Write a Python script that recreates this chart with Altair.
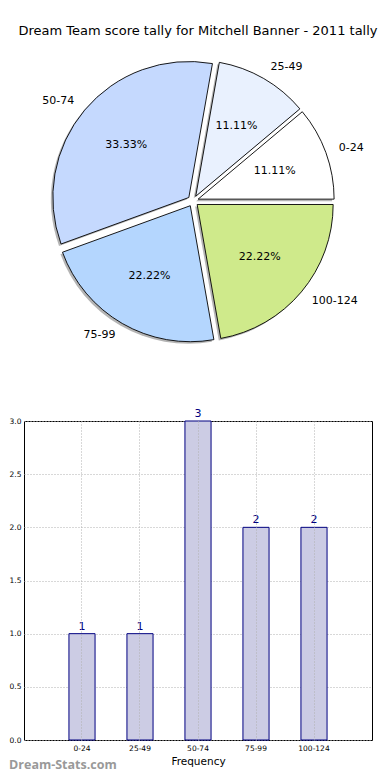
import altair as alt
import pandas as pd

# ---- data ----
bins = ["0-24", "25-49", "50-74", "75-99", "100-124"]
counts = [1, 1, 3, 2, 2]
slice_colors = ["#ffffff", "#e9f1fe", "#c5d9fe", "#b4d6fe", "#cfea8b"]
title_text = "Dream Team score tally for Mitchell Banner - 2011 tally"
y_ticks = [0.0, 0.5, 1.0, 1.5, 2.0, 2.5, 3.0]

df = pd.DataFrame({"bin": bins, "count": counts, "idx": list(range(len(bins)))})

# ---- layout constants ----
R = 136.0          # pie radius in px
BW, BH = 348, 319  # bar plot area
PW, PH = BW, 347   # pie panel size
CX, CY = 169, 155  # pie centre inside panel (px)
EXPLODE = 0.04

FONT = "DejaVu Sans"

xs = alt.Scale(domain=[-CX / R, (PW - CX) / R])
ys = alt.Scale(domain=[-(PH - CY) / R, CY / R])

color_scale = alt.Scale(domain=bins, range=slice_colors)

base = alt.Chart(df).transform_joinaggregate(
    total="sum(count)"
).transform_window(
    cum="sum(count)", sort=[alt.SortField("idx")], frame=[None, 0]
).transform_calculate(
    m="2*PI*(datum.cum - datum.count/2)/datum.total",
    ex=f"{EXPLODE}*cos(datum.m)",
    ey=f"{EXPLODE}*sin(datum.m)",
    px="datum.ex + 0.6*cos(datum.m)",
    py="datum.ey + 0.6*sin(datum.m)",
    lx="datum.ex + 1.1*cos(datum.m)",
    ly="datum.ey + 1.1*sin(datum.m)",
    pct="format(100*datum.count/datum.total, '.2f') + '%'",
    right="cos(datum.m) >= 0 ? 1 : 0",
)

theta_enc = alt.Theta("count:Q", stack=True,
                      scale=alt.Scale(range=[2.5 * 3.141592653589793, 0.5 * 3.141592653589793]))

shadow = base.mark_arc(radius=R, xOffset=-2, yOffset=2, fill="#777777",
                       opacity=0.55, strokeWidth=0).encode(
    theta=theta_enc,
    order=alt.Order("idx:Q"),
    x=alt.X("ex:Q", scale=xs, axis=None),
    y=alt.Y("ey:Q", scale=ys, axis=None),
)

arcs = base.mark_arc(radius=R, stroke="black", strokeWidth=0.9).encode(
    theta=theta_enc,
    order=alt.Order("idx:Q"),
    x=alt.X("ex:Q", scale=xs, axis=None),
    y=alt.Y("ey:Q", scale=ys, axis=None),
    fill=alt.Fill("bin:N", scale=color_scale, legend=None),
)

pct_text = base.mark_text(font=FONT, fontSize=11, color="black",
                          align="center", baseline="middle").encode(
    x=alt.X("px:Q", scale=xs, axis=None),
    y=alt.Y("py:Q", scale=ys, axis=None),
    text="pct:N",
)

lab_right = base.transform_filter("datum.right == 1").mark_text(
    font=FONT, fontSize=11, color="black", align="left", baseline="middle").encode(
    x=alt.X("lx:Q", scale=xs, axis=None),
    y=alt.Y("ly:Q", scale=ys, axis=None),
    text="bin:N",
)
lab_left = base.transform_filter("datum.right == 0").mark_text(
    font=FONT, fontSize=11, color="black", align="right", baseline="middle").encode(
    x=alt.X("lx:Q", scale=xs, axis=None),
    y=alt.Y("ly:Q", scale=ys, axis=None),
    text="bin:N",
)

pie = alt.layer(shadow, arcs, pct_text, lab_right, lab_left).properties(
    width=PW, height=PH,
    view=alt.ViewBackground(strokeOpacity=0, strokeWidth=0),
    title=alt.TitleParams(title_text, font=FONT, fontSize=13, fontWeight="normal",
                          color="black", anchor="middle", offset=8),
)

# ---- bar chart ----
xb = alt.X("bin:N", sort=bins,
           scale=alt.Scale(paddingInner=0.55, paddingOuter=0.775),
           axis=alt.Axis(title="Frequency", titleFont=FONT, titleFontSize=10.5,
                         titleFontWeight="normal", titleColor="black", titlePadding=5,
                         labelFont=FONT, labelFontSize=7.5, labelColor="black",
                         labelAngle=0, labelPadding=4, ticks=False, domain=False,
                         grid=True, gridColor="#b0b0b0", gridDash=[1, 2],
                         bandPosition=0.5, zindex=1))
yb = alt.Y("count:Q",
           scale=alt.Scale(domain=[0, 3], nice=False),
           axis=alt.Axis(title=None, values=y_ticks, format=".1f",
                         labelFont=FONT, labelFontSize=7.5, labelColor="black",
                         labelPadding=3, ticks=False, domain=False,
                         grid=True, gridColor="#b0b0b0", gridDash=[1, 2]))

bars = alt.Chart(df).mark_bar(fill="#ccccE4", stroke="#000080", strokeWidth=1).encode(
    x=xb, y=yb)
bar_text = alt.Chart(df).mark_text(font=FONT, fontSize=11, color="#000080",
                                   baseline="bottom", dy=-2).encode(
    x=alt.X("bin:N", sort=bins), y=alt.Y("count:Q"), text="count:Q")

bar = alt.layer(bars, bar_text).properties(
    width=BW, height=BH,
    view=alt.ViewBackground(stroke="black", strokeWidth=1),
    title=alt.TitleParams("Dream-Stats.com", orient="bottom", anchor="start",
                          frame="bounds", font="Open Sans", fontSize=12.5,
                          fontWeight="bold", color="#999999", offset=-8),
)

chart = alt.vconcat(pie, bar, spacing=14).properties(
    padding={"left": 0, "top": 17, "right": 0, "bottom": 0}
).configure_view(strokeWidth=0).configure(background="white")

chart.save("out.html", embed_options={"renderer": "svg", "actions": False})
